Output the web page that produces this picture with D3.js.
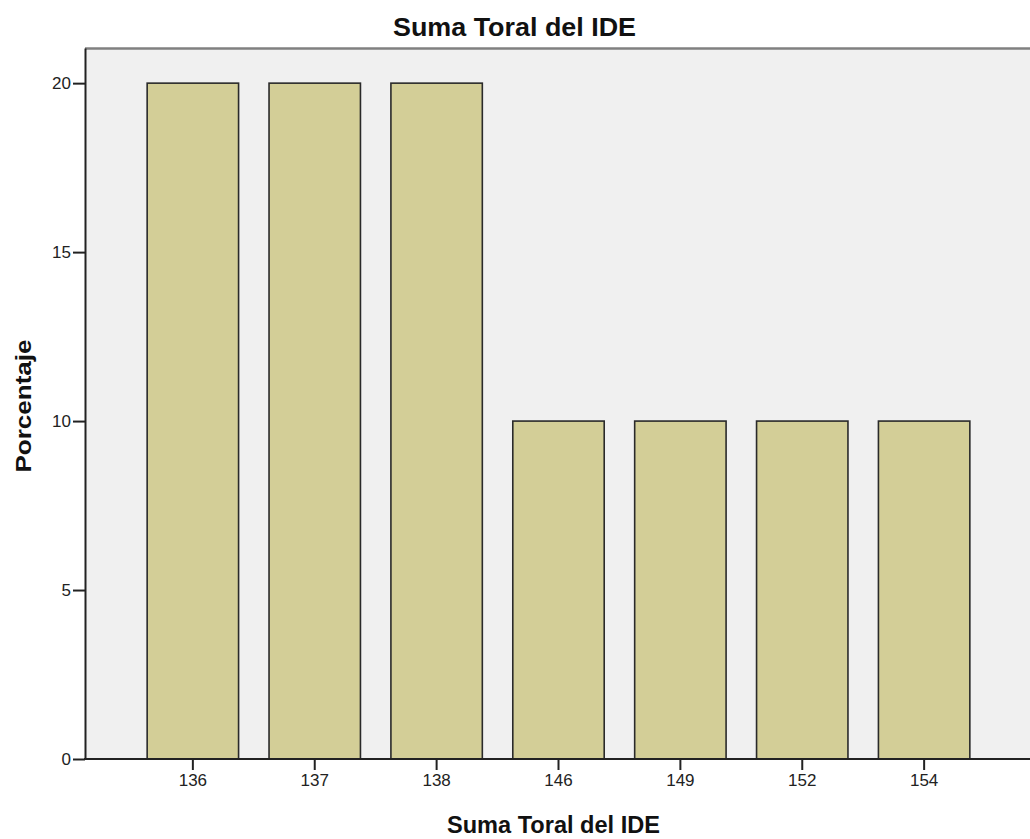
<!DOCTYPE html>
<html>
<head>
<meta charset="utf-8">
<script src="https://cdn.jsdelivr.net/npm/d3@7/dist/d3.min.js"></script>
<style>
  html, body { margin: 0; padding: 0; background: #ffffff; }
  svg { display: block; }
  text { font-family: "Liberation Sans", Arial, sans-serif; }
</style>
</head>
<body>
<svg id="chart" width="1030" height="839"></svg>
<script>
// ---- data ----
const categories = ["136", "137", "138", "146", "149", "152", "154"];
const percentages = [20, 20, 20, 10, 10, 10, 10];
const yTicks = [0, 5, 10, 15, 20];
const chartTitle = "Suma Toral del IDE";
const xTitle = "Suma Toral del IDE";
const yTitle = "Porcentaje";

// ---- layout ----
const W = 1030, H = 839;
const plot = { left: 85, top: 48, right: 1032, bottom: 759 };

const svg = d3.select("#chart");

const x = d3.scaleBand()
  .domain(categories)
  .range([plot.left, plot.right])
  .paddingInner(0.25)
  .paddingOuter(0.51);

const y = d3.scaleLinear()
  .domain([0, 21.04])
  .range([plot.bottom, plot.top]);

// plot background
svg.append("rect")
  .attr("x", plot.left)
  .attr("y", plot.top)
  .attr("width", W - plot.left + 10)
  .attr("height", plot.bottom - plot.top)
  .attr("fill", "#f0f0f0");

// top frame line
svg.append("line")
  .attr("x1", plot.left).attr("x2", W)
  .attr("y1", plot.top + 0.5).attr("y2", plot.top + 0.5)
  .attr("stroke", "#808080").attr("stroke-width", 2.5);

// bars
svg.append("g")
  .selectAll("rect")
  .data(categories.map((c, i) => ({ c, v: percentages[i] })))
  .join("rect")
  .attr("x", d => x(d.c))
  .attr("y", d => y(d.v))
  .attr("width", x.bandwidth())
  .attr("height", d => y(0) - y(d.v))
  .attr("fill", "#d3ce97")
  .attr("stroke", "#2a2a2a")
  .attr("stroke-width", 1.6);

// y axis
const gy = svg.append("g")
  .attr("transform", `translate(${plot.left},0)`)
  .call(d3.axisLeft(y).tickValues(yTicks).tickFormat(d3.format("d"))
    .tickSize(12).tickSizeOuter(0).tickPadding(2));
gy.select(".domain").attr("stroke", "#222").attr("stroke-width", 2);
gy.selectAll(".tick line").attr("stroke", "#222").attr("stroke-width", 2);
gy.selectAll(".tick text")
  .attr("font-size", 17)
  .attr("fill", "#222")
  .attr("font-family", "Liberation Sans, Arial, sans-serif");

// x axis
const gx = svg.append("g")
  .attr("transform", `translate(0,${plot.bottom})`)
  .call(d3.axisBottom(x).tickSize(11).tickPadding(4).tickSizeOuter(0));
gx.select(".domain")
  .attr("d", `M${plot.left - 1},0H${W + 5}`)
  .attr("stroke", "#222").attr("stroke-width", 2);
gx.selectAll(".tick line").attr("stroke", "#222").attr("stroke-width", 2);
gx.selectAll(".tick text")
  .attr("font-size", 17)
  .attr("fill", "#222")
  .attr("font-family", "Liberation Sans, Arial, sans-serif");

// titles
svg.append("text")
  .attr("x", 514.5).attr("y", 36)
  .attr("text-anchor", "middle")
  .attr("font-size", 26)
  .attr("font-weight", "bold")
  .attr("fill", "#111")
  .attr("textLength", 243)
  .attr("lengthAdjust", "spacingAndGlyphs")
  .text(chartTitle);

svg.append("text")
  .attr("x", 553.5).attr("y", 833)
  .attr("text-anchor", "middle")
  .attr("font-size", 23)
  .attr("font-weight", "bold")
  .attr("fill", "#111")
  .attr("textLength", 213)
  .attr("lengthAdjust", "spacingAndGlyphs")
  .text(xTitle);

svg.append("text")
  .attr("transform", `translate(31,406) rotate(-90)`)
  .attr("text-anchor", "middle")
  .attr("font-size", 22)
  .attr("font-weight", "bold")
  .attr("fill", "#111")
  .attr("textLength", 133)
  .attr("lengthAdjust", "spacingAndGlyphs")
  .text(yTitle);
</script>
</body>
</html>
